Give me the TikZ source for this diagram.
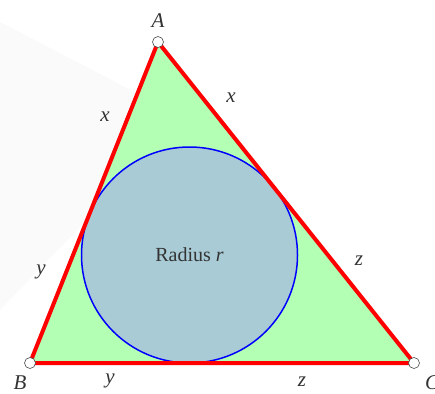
\documentclass[tikz,border=0pt]{standalone}
\usepackage{fontspec}
\setmainfont{Liberation Serif}
\usetikzlibrary{positioning}
\definecolor{trigreen}{RGB}{179, 255, 179}
\definecolor{inblue}{RGB}{168, 203, 214}

\begin{document}
\begin{tikzpicture}[x=1pt, y=-1pt,
    vertex/.style={circle, draw=black!70, fill=white, line width=0.6pt, inner sep=0pt, minimum size=11pt},
    sidelabel/.style={font=\fontsize{21}{24}\selectfont\itshape, text=black!80, inner sep=0pt}]
    \useasboundingbox (0,0) rectangle (435,393);
    % --- faint backdrop ---
    \fill[black!2] (0,22) -- (185,118) -- (0,310) -- cycle;

    % --- Triangle ---
    \coordinate (A) at (158,42);
    \coordinate (B) at (30,363);
    \coordinate (C) at (414,363);
    \fill[trigreen] (A) -- (B) -- (C) -- cycle;

    % --- Incircle ---
    \node[circle, draw=blue, line width=1.5pt, fill=inblue, inner sep=0pt, minimum size=216pt] (incircle) at (189.5,255) {};
    \node[font=\fontsize{20}{24}\selectfont, text=black!80] (radius) at (incircle.center) {Radius \textit{r}};

    \draw[red, line width=4pt, line join=round] (A) -- (B) -- (C) -- cycle;

    % --- Vertices ---
    \node[vertex] (vA) at (A) {};
    \node[vertex] (vB) at (B) {};
    \node[vertex] (vC) at (C) {};
    \node[sidelabel, above=8pt of vA] (lA) {A};
    \node[sidelabel, below=7pt of vB, xshift=-10pt] (lB) {B};
    \node[sidelabel, below=7pt of vC, xshift=18pt] (lC) {C};

    % --- Tangent lengths ---
    \node[sidelabel] (xAB) at (105,117) {x};
    \node[sidelabel] (xAC) at (231,98) {x};
    \node[sidelabel] (yAB) at (41,272) {y};
    \node[sidelabel] (yBC) at (110,381) {y};
    \node[sidelabel] (zAC) at (359,261) {z};
    \node[sidelabel] (zBC) at (302,382) {z};
\end{tikzpicture}
\end{document}
